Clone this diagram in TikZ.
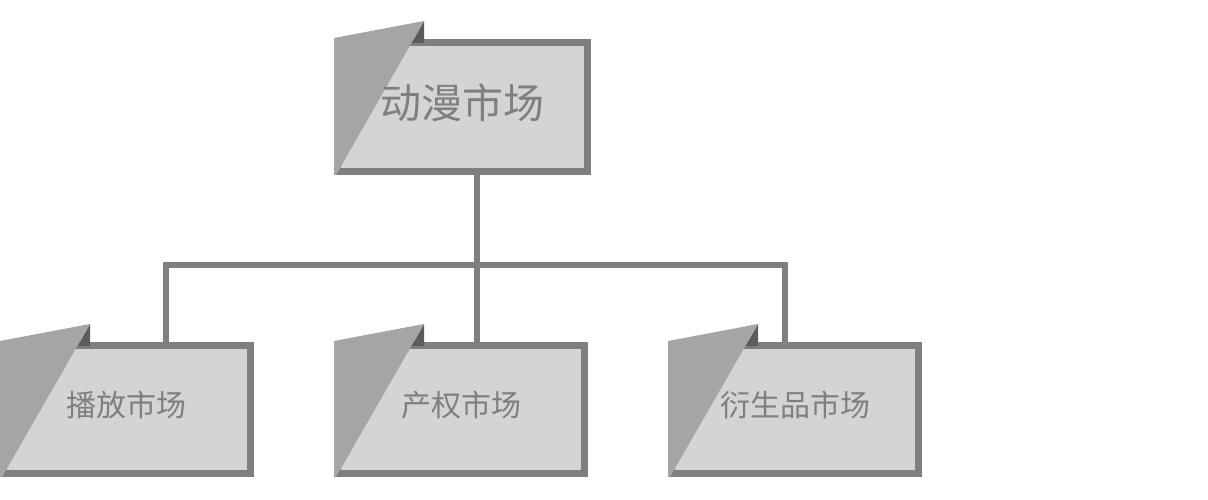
\documentclass[tikz,border=0pt]{standalone}
\usepackage{fontspec}
\setmainfont{Noto Sans CJK SC}
\usetikzlibrary{calc}
\definecolor{bordc}{HTML}{7F7F7F}
\definecolor{fillc}{HTML}{D4D4D4}
\definecolor{foldc}{HTML}{A5A5A5}
\definecolor{darkc}{HTML}{5C5C5C}
\definecolor{textc}{HTML}{7F7F7F}
\tikzset{
  box/.style={draw=bordc, fill=fillc, line width=7pt, rectangle, inner sep=0pt, outer sep=0pt,
    minimum width=247pt, minimum height=128pt, text=textc, font=\fontsize{30}{32}\selectfont},
  bigbox/.style={box, minimum width=250pt, minimum height=129pt, font=\fontsize{41}{44}\selectfont},
  conn/.style={draw=bordc, line width=6pt}
}
\begin{document}
\begin{tikzpicture}[x=1pt,y=-1pt]
\useasboundingbox (0,0) rectangle (1208,500);
\coordinate (hub) at (477,265);
\coordinate (c1) at (166,265);
\coordinate (c3) at (785,265);
\node[bigbox] (top) at (462.5,107) {};
\node[box] (b1) at (127,409.5) {};
\node[box] (b2) at (461,409.5) {};
\node[box] (b3) at (795,409.5) {};
\draw[conn] (b1.north -| c1) |- (hub) -| (b3.north -| c3);
\draw[conn] (top.south -| hub) -- (b2.north -| hub);
\foreach \n in {top,b1,b2,b3}{
  \fill[darkc] ($(\n.north west)+(86.5,-21.5)$) -- ($(\n.north west)+(86.5,0.5)$) -- ($(\n.north west)+(74,0.5)$) -- cycle;
  \fill[foldc] ($(\n.north west)+(-3.5,-4.5)$) -- ($(\n.north west)+(86.5,-21.5)$) -- ($(\n.south west)+(-1.5,3.5)$) -- ($(\n.south west)+(-3.5,3.5)$) -- cycle;
}
\node[text=textc, font=\fontsize{41}{44}\selectfont] (t0) at (462,103) {动漫市场};
\node[text=textc, font=\fontsize{30}{32}\selectfont] (t1) at (126,405) {播放市场};
\node[text=textc, font=\fontsize{30}{32}\selectfont] (t2) at (461,405) {产权市场};
\node[text=textc, font=\fontsize{30}{32}\selectfont] (t3) at (795,405) {衍生品市场};
\end{tikzpicture}
\end{document}
